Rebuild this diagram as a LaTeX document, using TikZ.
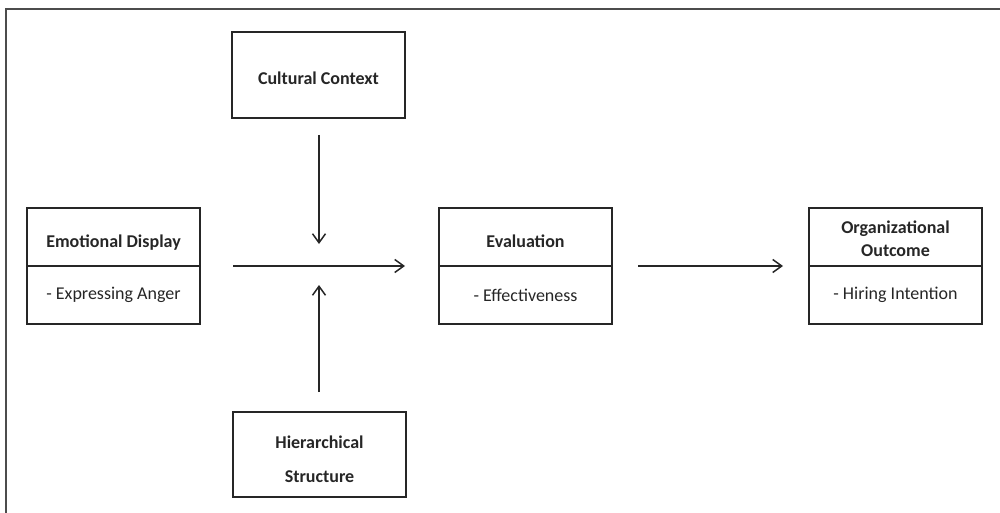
\documentclass[tikz,border=0pt]{standalone}
\usepackage{fontspec}
\setmainfont{Carlito}
\usetikzlibrary{arrows.meta}
\begin{document}
\begin{tikzpicture}[x=1pt,y=-1pt,
  box/.style={draw=black!85, line width=1.9pt, rectangle, inner sep=0pt, outer sep=0pt, minimum width=173pt, align=center, text=black!85, anchor=north west},
  ttl/.style={font=\bfseries\fontsize{18}{23}\selectfont},
  ttlone/.style={ttl, text height=24pt, text depth=4pt},
  sub/.style={font=\fontsize{18}{23}\selectfont},
  arr/.style={-{Straight Barb[length=9pt,width=13pt]}, line width=1.5pt, draw=black!85}]
\useasboundingbox (0,0) rectangle (1000,513);
\draw[line width=2pt, black!70] (6,513) -- (6,9) -- (1000,9);

% Emotional Display
\node[box, ttlone, minimum height=58pt] (emoT) at (27,208) {Emotional Display};
\node[box, sub, minimum height=58pt] (emoB) at (emoT.south west) {- Expressing Anger};
% Evaluation
\node[box, ttlone, minimum height=58pt] (evaT) at (439,208) {Evaluation};
\node[box, sub, minimum height=58pt] (evaB) at (evaT.south west) {- Effectiveness};
% Organizational Outcome
\node[box, ttl, minimum height=58pt] (orgT) at (809,208) {\rule{0pt}{16pt}Organizational\\Outcome};
\node[box, sub, minimum height=58pt] (orgB) at (orgT.south west) {- Hiring Intention};
% Cultural Context
\node[box, ttlone, minimum height=86pt] (cul) at (232,32) {Cultural Context};
% Hierarchical Structure
\node[box, ttl, minimum height=85pt, font=\bfseries\fontsize{18}{34}\selectfont] (hier) at (233,412) {\rule{0pt}{23pt}Hierarchical\\Structure};

\coordinate (j) at (319,266);
\draw[arr] ([xshift=33pt]emoT.south east) -- ([xshift=-34pt]evaT.south west);
\draw[arr] ([xshift=26pt]evaT.south east) -- ([xshift=-26pt]orgT.south west);
\draw[arr] (cul.south -| j) ++(0,17) -- ([yshift=22pt]j);
\draw[arr] (hier.north -| j) ++(0,-20) -- ([yshift=-19pt]j);
\end{tikzpicture}
\end{document}
